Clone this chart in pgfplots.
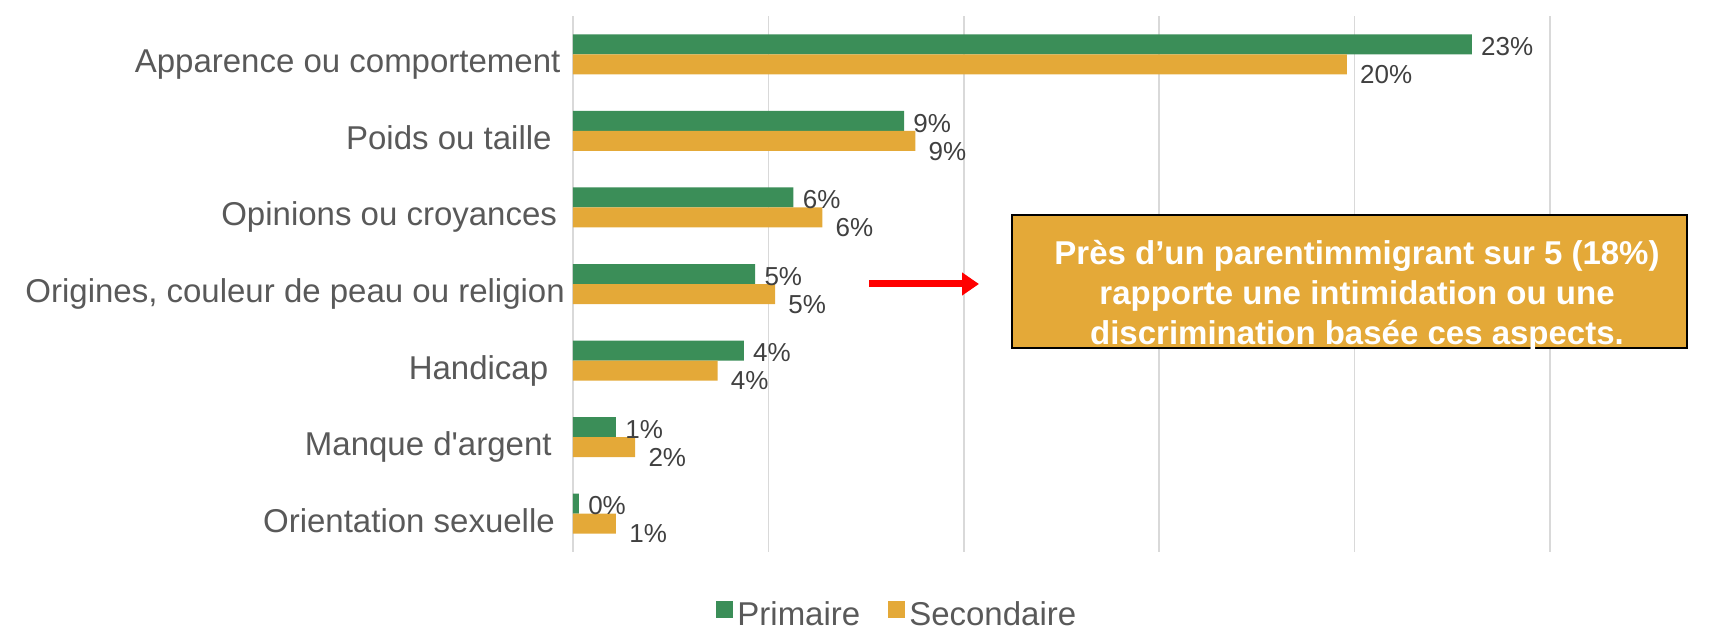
\documentclass[border=0pt]{standalone}
\usepackage{pgfplots}
\pgfplotsset{compat=1.18}
\usepackage{fontspec}
\setmainfont{Liberation Sans}
\usetikzlibrary{arrows.meta}
\definecolor{cG}{HTML}{3B8E58}
\definecolor{cY}{HTML}{E4A938}
\definecolor{cTxt}{HTML}{595959}
\definecolor{cVal}{HTML}{404040}
\definecolor{cGrid}{HTML}{D9D9D9}
\begin{document}
\begin{tikzpicture}
% frame: 1 px of the reference = 0.5pt
\begin{scope}[x=0.5pt,y=-0.5pt,yshift=317pt]
\path[use as bounding box] (0,0) rectangle (1731,634);
\end{scope}
\begin{axis}[
  at={(286.5pt,41pt)}, anchor=south west,
  scale only axis, width=488.5pt, height=268pt,
  xbar=0pt, bar width=10pt,
  xmin=0, xmax=25, xtick={0,5,10,15,20,25}, xticklabels={,,},
  ymin=-0.5, ymax=6.5, y dir=reverse,
  ytick={0,...,6},
  yticklabels={Apparence ou comportement\kern2.2pt,
    Poids ou taille\kern6.6pt,
    Opinions ou croyances\kern3.9pt,
    {Origines, couleur de peau ou religion},
    Handicap\kern8.3pt,
    Manque d\textquotesingle argent\kern6.6pt,
    Orientation sexuelle\kern5pt},
  yticklabel style={font=\fontsize{16.5}{19}\selectfont, text=cTxt,
    anchor=base east, inner sep=0pt, xshift=-3.9pt, yshift=-9.25pt},
  major tick length=0pt,
  axis line style={draw=none},
  xmajorgrids, grid style={cGrid, line width=0.75pt},
  clip=false,
  nodes near coords, point meta=explicit symbolic,
  every node near coord/.append style={font=\fontsize{13}{15}\selectfont,
    text=cVal, inner sep=0pt, anchor=base west},
  legend style={at={(0.333,-0.118)}, anchor=center, draw=none, fill=none,
    legend columns=2, font=\fontsize{16.5}{19}\selectfont, text=cTxt,
    /tikz/every even column/.append style={column sep=12pt}},
]
\addplot[fill=cG, draw=none, bar shift=5pt,
  every node near coord/.append style={xshift=4.5pt, yshift=-5.6pt},
  legend image code/.code={\fill[cG] (0pt,-1.25pt) rectangle (8.5pt,7.25pt);}]
  coordinates {(23.0,0) [23\%] (8.47,1) [9\%] (5.64,2) [6\%] (4.66,3) [5\%]
    (4.37,4) [4\%] (1.10,5) [1\%] (0.15,6) [0\%]};
\addlegendentry{Primaire}
\addplot[fill=cY, draw=none, bar shift=-5pt,
  every node near coord/.append style={xshift=6.5pt, yshift=-9.6pt},
  legend image code/.code={\fill[cY] (0pt,-1.25pt) rectangle (8.5pt,7.25pt);}]
  coordinates {(19.8,0) [20\%] (8.76,1) [9\%] (6.38,2) [6\%] (5.17,3) [5\%]
    (3.70,4) [4\%] (1.59,5) [2\%] (1.10,6) [1\%]};
\addlegendentry{Secondaire}
\end{axis}
\begin{scope}[x=0.5pt,y=-0.5pt,yshift=317pt]
\draw[red, line width=3.5pt, -{Triangle[length=8.5pt,width=11pt]}] (869,284) -- (979,284);
\filldraw[fill=cY, draw=black, line width=1pt] (1012,215) rectangle (1687,348);
\node[align=center, text=white, inner sep=0pt,
  font=\fontsize{16.5}{20}\selectfont\bfseries] at (1357,296)
  {Près d’un parentimmigrant sur 5 (18\%)\\rapporte une intimidation ou une\\discrimination basée ces aspects.};
\end{scope}
\end{tikzpicture}
\end{document}
